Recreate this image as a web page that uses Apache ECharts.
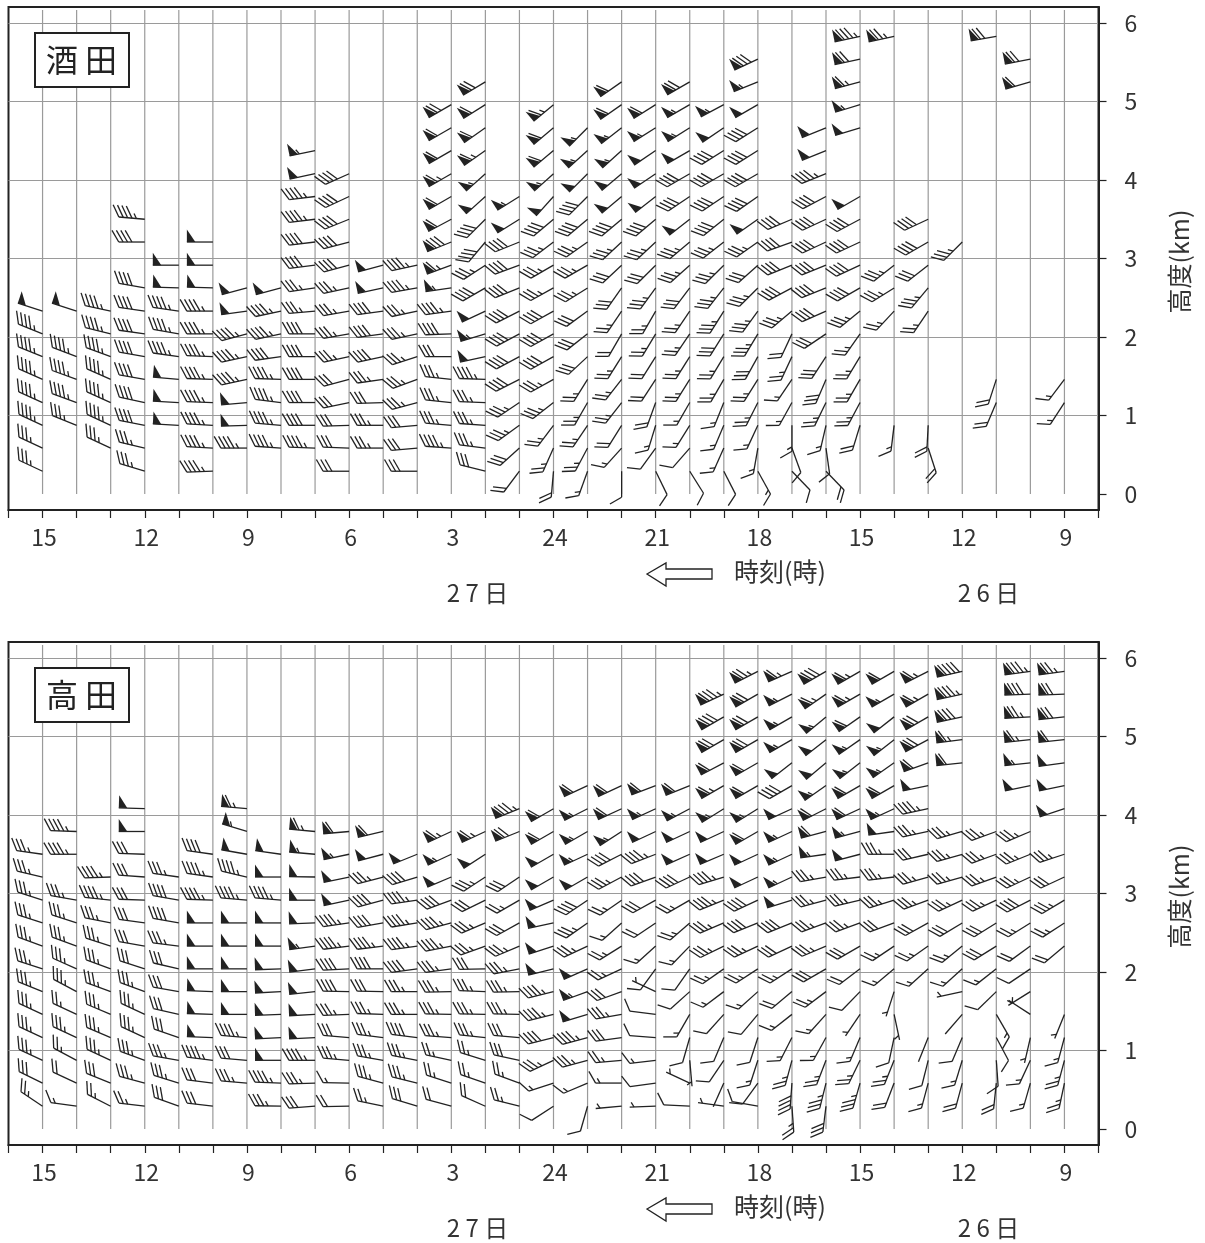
<!DOCTYPE html>
<html><head><meta charset="utf-8">
<style>html,body{margin:0;padding:0;background:#fff}#c{width:1205px;height:1243px}</style>
<script src="https://cdn.jsdelivr.net/npm/echarts@6/dist/echarts.min.js"></script>
</head><body><div id="c"></div>
<script>
const hourTicks = ["","15","","","12","","","9","","","6","","","3","","","24","","","21","","","18","","","15","","","12","","","9",""];
const heightTicks = [0,1,2,3,4,5,6];
const columnLines = [1,2,3,4,5,6,7,8,9,10,11,12,13,14,15,16,17,18,19,20,21,22,23,24,25,26,27,28,29,30,31];
const levelKm = [0.29,0.585,0.875,1.165,1.46,1.75,2.04,2.33,2.625,2.915,3.21,3.50,3.79,4.08,4.375,4.665,4.96,5.25,5.54,5.83];

// each row: column, first level, then direction(deg), speed(kt) per level; 0,0 = no observation
const sakataRows = [
[1,1, 295,35,295,35,295,45,294,45,294,45,292,45,292,45,288,50],
[2,3, 292,35,290,45,290,45,291,45,0,0,288,50],
[3,2, 295,35,295,45,294,45,294,45,290,45,284,45,282,45],
[4,1, 287,35,283,35,281,40,282,40,280,40,280,40,278,40,278,40,280,40,0,0,270,40,275,45],
[5,3, 273,50,273,50,275,50,278,45,280,45,278,45,272,50,270,50],
[6,1, 268,45,273,45,273,45,272,45,272,45,272,45,270,45,270,45,272,50,270,50,270,50],
[7,2, 270,45,268,50,265,50,258,45,258,45,255,45,262,50,255,50],
[8,2, 274,45,275,45,277,45,272,45,262,40,258,45,258,45,255,50],
[9,2, 272,45,270,40,270,40,270,40,270,40,270,40,265,35,262,35,263,40,263,40,263,45,263,45,258,50,258,55],
[10,1, 270,30,272,30,268,30,258,30,255,30,258,35,260,35,260,35,258,35,255,40,255,40,248,40,245,40,246,40],
[11,2, 270,35,270,35,268,30,262,35,258,40,262,40,262,40,258,50,255,50],
[12,1, 270,30,265,30,265,30,255,35,250,35,252,35,258,35,258,35,260,45,258,45],
[13,2, 274,45,275,35,276,35,276,35,270,30,268,40,262,45,262,55,250,65,248,80,242,60,240,60,240,65,240,60,240,60,240,70],
[14,1, 284,30,277,35,274,35,272,35,272,45,258,50,253,55,245,50,240,40,237,35,220,40,225,40,228,50,228,55,235,65,235,60,238,60,239,70],
[15,1, 217,20,228,30,234,35,236,35,243,40,242,40,242,40,243,40,248,40,250,40,248,40,238,50,238,55],
[16,1, 185,20,204,25,217,25,232,35,241,35,241,40,241,40,241,40,241,35,240,35,233,35,230,40,222,50,228,55,230,60,230,60,230,65],
[17,1, 200,15,208,25,214,25,210,25,212,25,227,30,232,30,234,30,238,35,240,35,235,35,230,40,225,40,225,50,228,55,225,55],
[18,1, 180,10,222,15,212,20,218,25,218,25,212,25,210,20,214,25,215,30,227,30,227,35,230,40,230,50,230,50,228,55,232,55,235,60,235,60],
[19,1, 154,10,216,10,197,15,200,20,213,20,212,20,211,25,210,25,216,35,225,30,227,35,230,40,232,50,236,50,236,50,238,55,238,60],
[20,1, 148,10,221,10,212,15,210,15,212,25,212,25,214,25,214,25,217,30,228,35,230,35,232,50,236,40,240,40,240,50,238,55,240,55,240,70],
[21,1, 153,10,204,15,203,15,202,15,210,25,211,25,212,30,212,35,218,35,225,35,232,35,231,40,236,40,240,40,238,40,236,50,242,55],
[22,1, 151,15,190,15,205,15,207,25,212,25,209,30,211,35,216,35,225,35,228,30,235,35,235,50,235,40,240,40,238,40,238,40,240,50,248,55,245,80],
[23,1, 136,10,160,10,180,15,209,15,214,15,205,25,205,20,230,35,242,40,248,40,250,40,247,40],
[24,1, 136,20,172,10,193,15,206,25,203,30,213,30,236,30,246,40,248,40,248,40,245,40,245,40,242,40,248,45,248,50,248,50],
[25,3, 197,20,208,25,210,25,211,25,215,25,231,35,240,40,245,40,245,40,242,40,240,50,0,0,0,0,253,50,253,55,255,65,258,70,258,85],
[26,3, 187,15,0,0,0,0,0,0,0,0,223,25,238,35,232,35,0,0,0,0,0,0,0,0,0,0,0,0,0,0,0,0,0,0,258,75],
[27,2, 162,20,183,20,0,0,0,0,0,0,0,0,214,25,220,35,232,30,240,40,245,40],
[28,11, 225,35],
[29,4, 203,20,198,20,0,0,0,0,0,0,0,0,0,0,0,0,0,0,0,0,0,0,0,0,0,0,0,0,0,0,0,0,260,70],
[30,18, 254,60,259,70],
[31,4, 213,15,217,15]
];
const takadaRows = [
[1,1, 304,25,296,30,295,35,295,35,295,35,292,35,288,35,290,35,288,35,288,35,283,35,278,35],
[2,1, 278,15,295,20,298,25,295,35,295,25,298,35,294,35,290,35,288,35,280,35,0,0,270,45,272,45],
[3,1, 297,25,292,30,295,35,293,35,293,35,290,35,290,35,288,35,281,35,276,45,268,45],
[4,1, 277,25,285,35,290,35,295,35,295,35,290,35,288,30,280,30,278,30,272,30,274,30,272,30,270,50,272,50],
[5,1, 290,30,287,35,280,35,289,30,283,30,280,30,283,30,277,35,280,40,280,40,278,35],
[6,1, 277,30,277,30,277,45,272,50,272,50,272,50,270,50,270,50,270,50,272,45,278,45,278,40],
[7,2, 275,35,275,30,275,45,270,50,270,50,270,50,270,50,270,50,275,45,283,45,280,50,287,55,275,65],
[8,1, 271,35,272,45,270,50,267,50,268,50,267,50,268,50,270,50,270,50,275,45,270,50,278,50],
[9,1, 266,30,268,35,270,45,267,50,267,50,264,50,263,50,262,55,268,50,270,50,271,50,275,55,275,65],
[10,1, 269,20,271,15,275,35,275,30,268,35,271,40,267,40,263,45,262,45,258,50,258,50,258,55,265,60],
[11,1, 282,25,285,35,280,35,277,35,272,35,271,30,270,40,263,45,260,40,255,40,255,35,255,50,257,60],
[12,1, 287,30,284,35,281,35,277,40,270,35,270,35,262,40,262,45,261,45,262,45,253,40,248,50],
[13,1, 285,20,288,25,282,25,274,35,271,35,269,35,262,35,259,45,255,45,250,40,247,50,245,55,245,65],
[14,1, 294,20,289,25,287,25,276,35,271,35,272,35,269,30,250,35,247,35,244,30,237,35,237,50,245,65],
[15,1, 284,25,290,25,282,30,275,30,271,35,269,35,259,35,247,35,241,30,240,25,236,30,0,0,248,70,248,85],
[16,1, 237,10,252,15,245,35,256,40,256,45,256,45,256,50,252,50,258,50,247,50,240,50,240,50,240,60,240,60],
[17,1, 196,10,247,15,255,35,255,45,253,50,250,55,246,50,245,35,235,35,236,40,240,50,245,55,240,55,243,55,245,60],
[18,1, 265,5,270,15,265,25,262,30,260,35,250,30,245,25,238,25,228,15,235,25,242,35,243,40,237,55,245,60,245,60],
[19,1, 268,5,262,10,263,15,274,10,277,10,295,5,216,10,228,15,236,20,241,30,250,40,249,45,245,50,245,55,249,60],
[20,1, 273,10,295,5,175,5,196,10,210,15,228,10,215,10,224,15,229,25,240,25,245,40,246,50,245,50,242,55,248,60],
[21,1, 278,5,204,1,214,10,203,10,222,10,233,15,235,25,244,35,247,35,248,45,253,45,247,50,245,50,238,55,240,65,242,60,240,70,240,80,245,85],
[22,1, 280,10,216,10,198,15,198,10,220,10,228,15,237,25,245,35,248,40,245,40,245,50,245,50,240,60,238,55,240,60,240,60,240,70,240,70,240,70,243,75],
[23,1, 176,25,184,40,195,25,207,15,232,15,230,20,237,25,245,30,248,40,253,50,245,55,245,55,245,55,245,50,240,40,232,50,240,55,240,55,243,55,246,65],
[24,1, 187,30,194,35,201,25,209,15,222,15,233,25,240,30,247,35,250,35,255,35,260,35,262,55,255,60,243,60,235,55,230,50,232,50,230,55,235,65,240,80],
[25,2, 196,35,206,25,203,15,214,5,224,10,233,20,240,30,250,35,257,35,263,35,255,50,255,55,245,60,240,60,232,55,235,55,235,60,240,65,240,65],
[26,2, 201,20,202,25,192,10,168,5,198,5,230,15,236,25,250,30,253,35,263,35,270,35,262,50,245,55,240,60,235,55,232,55,232,50,240,55,240,60],
[27,2, 195,15,194,10,202,1,0,0,0,0,228,15,235,25,241,30,250,35,254,35,257,30,258,35,258,45,258,50,250,60,242,70,240,70,240,65,243,65],
[28,2, 195,20,197,15,203,10,221,1,258,5,228,15,231,25,239,30,245,35,254,35,254,35,254,35,0,0,0,0,264,60,263,65,258,80,258,85,257,90],
[29,2, 186,20,176,10,152,10,150,15,226,10,232,15,238,30,238,30,245,35,250,35,250,35,250,35],
[30,2, 196,15,205,15,193,5,303,5,238,5,236,10,234,20,238,25,243,40,245,35,248,35,247,35,0,0,258,50,264,55,264,65,267,75,268,80,262,85],
[31,2, 192,25,195,25,195,15,202,5,0,0,0,0,230,20,237,25,239,35,245,30,252,35,0,0,252,50,258,50,262,50,264,60,264,70,268,70,262,75]
];

function expand(rows){
  const out=[];
  rows.forEach(r=>{
    for(let i=2;i<r.length;i+=2){
      if(r[i]===0) continue;
      out.push([r[0], levelKm[r[1]-1+(i-2)/2], r[i], r[i+1]]);
    }
  });
  return out;
}
const INK='#222', FONT='"Noto Sans CJK JP","Noto Sans",sans-serif';
const STAFF=26, FULL=13.5, HALF=5.5, GAP=4.4, FLAG_W=8.5, FLAG_H=12.5, FEATHER_DEG=60;
function barb(params, api){
  const p=api.coord([api.value(0),api.value(1)]);
  const d=api.value(2)*Math.PI/180; let kt=api.value(3);
  const ux=Math.sin(d), uy=-Math.cos(d), nx=-uy, ny=ux;
  const tx=p[0]+ux*STAFF, ty=p[1]+uy*STAFF;
  const ca=Math.cos(FEATHER_DEG*Math.PI/180), sa=Math.sin(FEATHER_DEG*Math.PI/180);
  const children=[{type:'line',shape:{x1:p[0],y1:p[1],x2:tx,y2:ty},style:{stroke:INK,lineWidth:1.3}}];
  let s=0, flags=Math.floor(kt/50); kt-=flags*50;
  const pt=(q)=>[tx-ux*q,ty-uy*q];
  for(let i=0;i<flags;i++){
    const a=pt(s),b=pt(s+FLAG_W);
    children.push({type:'polygon',shape:{points:[a,b,[a[0]+nx*FLAG_H,a[1]+ny*FLAG_H]]},style:{fill:INK}});
    s+=FLAG_W+1;
  }
  if(flags) s+=0.5;
  let fulls=Math.floor(kt/10), half=(kt%10)>=5;
  if(!flags&&!fulls&&half) s=GAP;
  const add=(len)=>{const a=pt(s);children.push({type:'line',shape:{x1:a[0],y1:a[1],
    x2:a[0]+(nx*sa+ux*ca)*len,y2:a[1]+(ny*sa+uy*ca)*len},style:{stroke:INK,lineWidth:1.3}});s+=GAP;};
  for(let i=0;i<fulls;i++) add(FULL);
  if(half) add(HALF);
  return {type:'group',children};
}
function colLine(params, api){
  const a=api.coord([api.value(0),0]), b=api.coord([api.value(0),6.165]);
  return {type:'line',shape:{x1:a[0],y1:a[1],x2:b[0],y2:b[1]},style:{stroke:'#9a9a9a',lineWidth:1.2}};
}
const tops=[7,642];
const xAxes=tops.map((t,i)=>({type:'value',gridIndex:i,min:0,max:32,interval:1,
  splitLine:{show:false},axisLine:{onZero:false,lineStyle:{color:INK,width:2}},
  axisTick:{length:8,lineStyle:{color:INK,width:1.2}},
  axisLabel:{margin:16,fontSize:23,color:'#333',fontFamily:FONT,padding:[0,0,0,3],showMinLabel:true,showMaxLabel:true,
    formatter:v=>hourTicks[Math.round(v)]}}));
const yAxes=tops.map((t,i)=>({type:'value',gridIndex:i,position:'right',min:-0.204,max:6.204,
  splitLine:{show:true,showMinLine:false,lineStyle:{color:'#9a9a9a',width:1.2}},
  axisLine:{show:true,onZero:false,lineStyle:{color:INK,width:2}},
  axisTick:{show:true,length:8,customValues:heightTicks,lineStyle:{color:INK,width:1.2}},
  axisLabel:{margin:26,fontSize:23,color:'#333',fontFamily:FONT,customValues:heightTicks},
  name:'高度(km)',nameLocation:'middle',nameRotate:90,nameGap:68,
  nameTextStyle:{fontSize:25,color:'#333',fontFamily:FONT,padding:[0,6,0,0]}}));
const grids=tops.map(t=>({left:8.5,width:1090,top:t,height:503,show:true,borderColor:INK,borderWidth:2,backgroundColor:'transparent'}));
const series=[];
[sakataRows,takadaRows].forEach((rows,i)=>{
  series.push({type:'custom',xAxisIndex:i,yAxisIndex:i,z:1,silent:true,renderItem:colLine,clip:false,
    data:columnLines.map(c=>[c]),encode:{x:0}});
  series.push({type:'custom',xAxisIndex:i,yAxisIndex:i,z:3,silent:true,renderItem:barb,clip:false,animation:false,
    data:expand(rows),encode:{x:0,y:1}});
});
function panelText(name,dy){
  const txt=(t,x,y,size,extra)=>({type:'text',x:x,y:y,z:20,style:Object.assign({text:t,fontSize:size,fontFamily:FONT,fill:'#333',textAlign:'center',textVerticalAlign:'middle'},extra||{})});
  return [
    {type:'rect',z:19,shape:{x:35,y:33+dy,width:94,height:54},style:{fill:'#fff',stroke:INK,lineWidth:2}},
    txt(name,81.5,60+dy,32,{fill:'#222'}),
    {type:'polygon',z:20,shape:{points:[[647,574+dy],[666,563+dy],[666,569+dy],[712,569+dy],[712,579+dy],[666,579+dy],[666,586+dy]]},style:{fill:'#fff',stroke:INK,lineWidth:1.3}},
    txt('時刻(時)',780,571+dy,25),
    txt('2 7 日',477.5,593+dy,24),
    txt('2 6 日',988.5,593+dy,24)
  ];
}
const chart=echarts.init(document.getElementById('c'),null,{renderer:'canvas'});
chart.setOption({animation:false,backgroundColor:'#fff',grid:grids,xAxis:xAxes,yAxis:yAxes,series:series,
  graphic:{elements:panelText('酒 田',0).concat(panelText('高 田',635))}});
</script></body></html>
